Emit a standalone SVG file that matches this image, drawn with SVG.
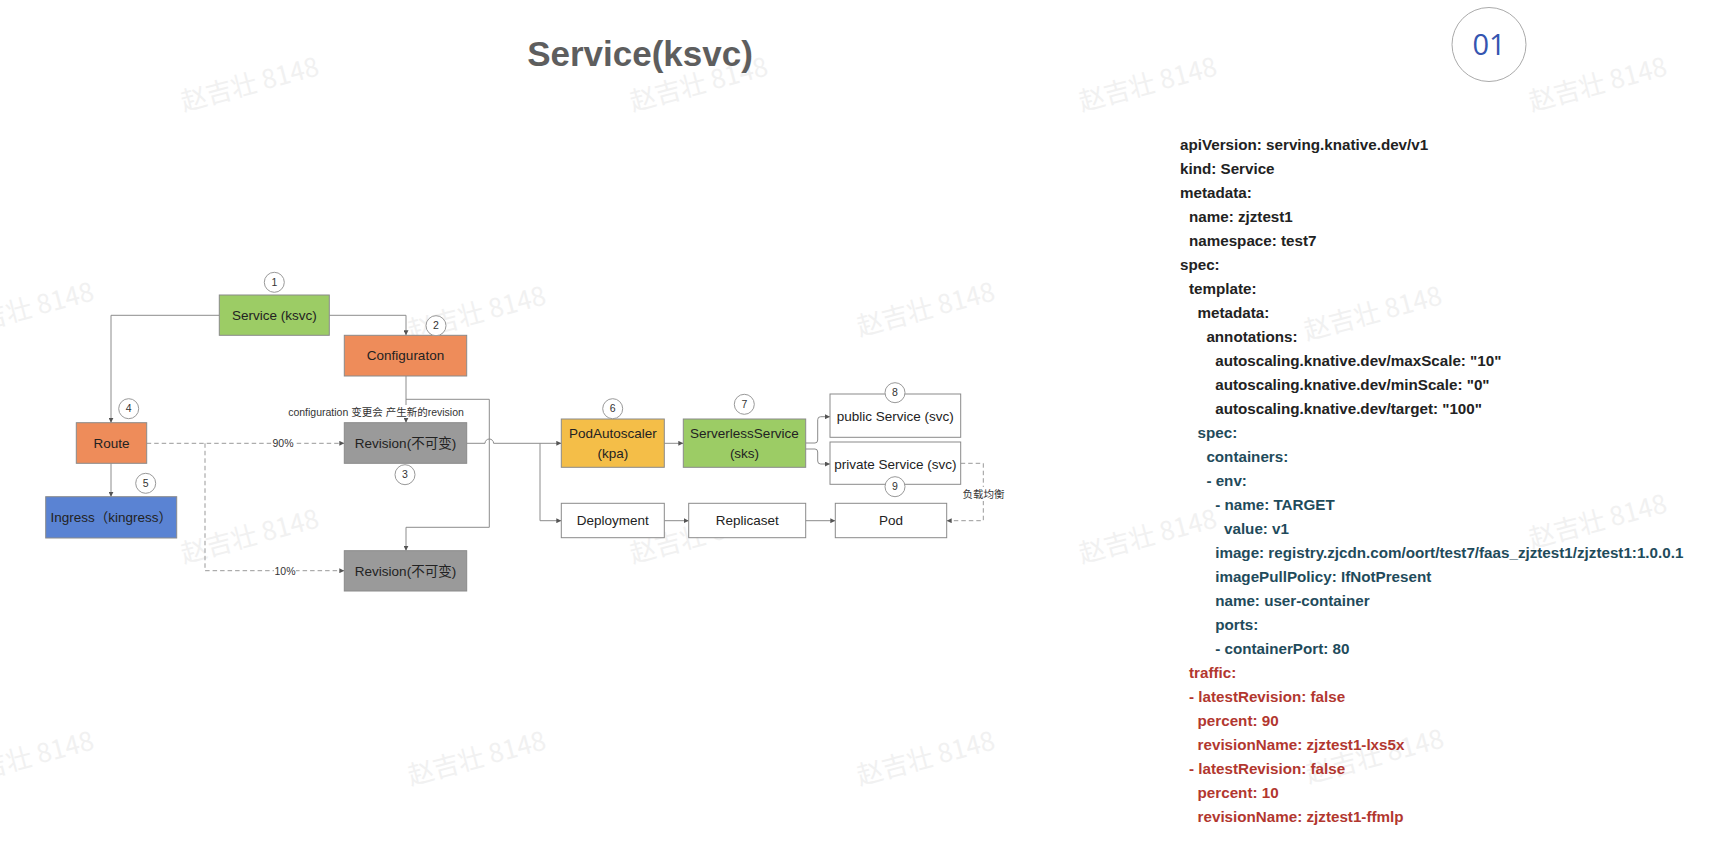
<svg xmlns="http://www.w3.org/2000/svg" width="1718" height="854" viewBox="0 0 1718 854">
  <defs>
    <marker id="arrow" markerUnits="userSpaceOnUse" markerWidth="6" markerHeight="5" refX="5" refY="2.5" orient="auto">
      <path d="M0,0 L5,2.5 L0,5 z" fill="#555"/>
    </marker>
    <style>
      .wm { font-family: "Noto Sans CJK SC", "Liberation Sans", sans-serif; font-size: 26px; fill: #f1f1f1; }
      .box { stroke: #8a8a8a; stroke-width: 1; }
      .lbl { font-family: "Liberation Sans", Arial, "Noto Sans CJK SC", sans-serif; font-size: 13.5px; fill: #222; text-anchor: middle; }
      .small { font-family: "Liberation Sans", Arial, "Noto Sans CJK SC", sans-serif; font-size: 10.5px; fill: #333; text-anchor: middle; }
      .num { font-family: "Liberation Sans", Arial, sans-serif; font-size: 10.5px; fill: #333; text-anchor: middle; }
      .badge { fill: #fff; stroke: #999; stroke-width: 1; }
      .line { fill: none; stroke: #8c8c8c; stroke-width: 1; }
      .dash { fill: none; stroke: #999; stroke-width: 1; stroke-dasharray: 4.5 3; }
      .yaml { font-family: "Liberation Sans", Arial, sans-serif; font-size: 15.2px; font-weight: bold; }
      .k { fill: #222; }
      .t { fill: #1f4b5b; }
      .r { fill: #b2372f; }
    </style>
  </defs>

  <rect width="1718" height="854" fill="#fff"/>

  <!-- watermark pattern -->
  <g id="watermarks">
    <text class="wm" transform="translate(252,93) rotate(-15)" text-anchor="middle">赵吉壮 8148</text>
    <text class="wm" transform="translate(701,93) rotate(-15)" text-anchor="middle">赵吉壮 8148</text>
    <text class="wm" transform="translate(1150,93) rotate(-15)" text-anchor="middle">赵吉壮 8148</text>
    <text class="wm" transform="translate(1600,93) rotate(-15)" text-anchor="middle">赵吉壮 8148</text>
    <text class="wm" transform="translate(27,318) rotate(-15)" text-anchor="middle">赵吉壮 8148</text>
    <text class="wm" transform="translate(479,322) rotate(-15)" text-anchor="middle">赵吉壮 8148</text>
    <text class="wm" transform="translate(928,318) rotate(-15)" text-anchor="middle">赵吉壮 8148</text>
    <text class="wm" transform="translate(1375,322) rotate(-15)" text-anchor="middle">赵吉壮 8148</text>
    <text class="wm" transform="translate(252,545) rotate(-15)" text-anchor="middle">赵吉壮 8148</text>
    <text class="wm" transform="translate(701,545) rotate(-15)" text-anchor="middle">赵吉壮 8148</text>
    <text class="wm" transform="translate(1150,545) rotate(-15)" text-anchor="middle">赵吉壮 8148</text>
    <text class="wm" transform="translate(1600,530) rotate(-15)" text-anchor="middle">赵吉壮 8148</text>
    <text class="wm" transform="translate(27,767) rotate(-15)" text-anchor="middle">赵吉壮 8148</text>
    <text class="wm" transform="translate(479,767) rotate(-15)" text-anchor="middle">赵吉壮 8148</text>
    <text class="wm" transform="translate(928,767) rotate(-15)" text-anchor="middle">赵吉壮 8148</text>
    <text class="wm" transform="translate(1377,765) rotate(-15)" text-anchor="middle">赵吉壮 8148</text>
  </g>

  <!-- heading and page number -->
  <text id="title" x="640" y="66" text-anchor="middle" font-family="Liberation Sans, Arial, sans-serif" font-size="35" font-weight="bold" fill="#5e5e5e">Service(ksvc)</text>
  <g id="page-number">
    <circle cx="1489" cy="44.5" r="37" fill="#fff" stroke="#aaa" stroke-width="1"/>
    <text x="1489" y="55" text-anchor="middle" font-family="Open Sans, Liberation Sans, sans-serif" font-size="29" fill="#3555b0">01</text>
  </g>

  <!-- connectors -->
  <g id="connectors">
    <path class="line" d="M219.3,315.3 H111 V422.7" marker-end="url(#arrow)"/>
    <path class="line" d="M329.3,315.3 H406 V335.3" marker-end="url(#arrow)"/>
    <path class="line" d="M406,376 V422.7" marker-end="url(#arrow)"/>
    <path class="line" d="M406,399.3 H489.3 V527.3 H406 V550.7" marker-end="url(#arrow)"/>
    <path class="line" d="M111,463.3 V496.7" marker-end="url(#arrow)"/>
    <path class="dash" d="M146.7,443.3 H344.3" marker-end="url(#arrow)"/>
    <path class="dash" d="M205,443.3 V570.7 H344.3" marker-end="url(#arrow)"/>
    <path class="line" d="M466.7,443.3 H485 A4.3,4.3 0 0 1 493.6,443.3 H561.3" marker-end="url(#arrow)"/>
    <path class="line" d="M540,443.3 V520.7 H561.3" marker-end="url(#arrow)"/>
    <path class="line" d="M664.3,443.3 H683.3" marker-end="url(#arrow)"/>
    <path class="line" d="M805.7,443 H815 Q817.7,443 817.7,440 V419.7 Q817.7,416.7 820.7,416.7 H830" marker-end="url(#arrow)"/>
    <path class="line" d="M805.7,449 H815 Q817.7,449 817.7,452 V461 Q817.7,464 820.7,464 H830" marker-end="url(#arrow)"/>
    <path class="line" d="M664.3,520.7 H688.7" marker-end="url(#arrow)"/>
    <path class="line" d="M805.7,520.7 H835.3" marker-end="url(#arrow)"/>
    <path class="dash" d="M960.7,463.3 H983.3 V520.7 H946.7" marker-end="url(#arrow)"/>

    <!-- connector labels -->
    <rect x="286" y="405" width="180" height="13" fill="#fff"/>
    <text class="small" x="376" y="415.5">configuration 变更会 产生新的revision</text>
    <rect x="272" y="437" width="22" height="12" fill="#fff"/>
    <text class="small" x="283" y="447">90%</text>
    <rect x="274" y="565" width="22" height="12" fill="#fff"/>
    <text class="small" x="285" y="574.5">10%</text>
    <rect x="962" y="487" width="43" height="14" fill="#fff"/>
    <text class="small" x="983.5" y="498">负载均衡</text>
  </g>

  <!-- nodes -->
  <g id="node-service">
    <rect class="box" x="219.3" y="295" width="110" height="40.3" fill="#9ccc65"/>
    <text class="lbl" x="274.3" y="320">Service (ksvc)</text>
    <circle class="badge" cx="274.3" cy="282.3" r="10"/>
    <text class="num" x="274.3" y="286">1</text>
  </g>

  <g id="node-configuration">
    <rect class="box" x="344.3" y="335.3" width="122.4" height="40.7" fill="#ee8c5a"/>
    <text class="lbl" x="405.5" y="360.4">Configuraton</text>
    <circle class="badge" cx="436" cy="325.7" r="10"/>
    <text class="num" x="436" y="329.4">2</text>
  </g>

  <g id="node-revision-1">
    <rect class="box" x="344.3" y="422.7" width="122.4" height="40.6" fill="#9a9a9a"/>
    <text class="lbl" x="405.5" y="448">Revision(不可变)</text>
    <circle class="badge" cx="405" cy="474.7" r="10"/>
    <text class="num" x="405" y="478.4">3</text>
  </g>

  <g id="node-revision-2">
    <rect class="box" x="344.3" y="550.7" width="122.4" height="40.3" fill="#9a9a9a"/>
    <text class="lbl" x="405.5" y="575.8">Revision(不可变)</text>
  </g>

  <g id="node-route">
    <rect class="box" x="76.3" y="422.7" width="70.4" height="40.6" fill="#ee8c5a"/>
    <text class="lbl" x="111.5" y="448">Route</text>
    <circle class="badge" cx="128.7" cy="408.7" r="10"/>
    <text class="num" x="128.7" y="412.4">4</text>
  </g>

  <g id="node-ingress">
    <rect class="box" x="45.7" y="496.7" width="131" height="41.3" fill="#5a83d3"/>
    <text class="lbl" x="111.2" y="522">Ingress（kingress）</text>
    <circle class="badge" cx="145.7" cy="483.3" r="10"/>
    <text class="num" x="145.7" y="487">5</text>
  </g>

  <g id="node-podautoscaler">
    <rect class="box" x="561.3" y="419" width="103" height="48.3" fill="#f4be48"/>
    <text class="lbl" x="612.8" y="438">PodAutoscaler</text>
    <text class="lbl" x="612.8" y="457.5">(kpa)</text>
    <circle class="badge" cx="612.7" cy="408.7" r="10"/>
    <text class="num" x="612.7" y="412.4">6</text>
  </g>

  <g id="node-serverlessservice">
    <rect class="box" x="683.3" y="419" width="122.4" height="48.3" fill="#9ccc65"/>
    <text class="lbl" x="744.5" y="438">ServerlessService</text>
    <text class="lbl" x="744.5" y="457.5">(sks)</text>
    <circle class="badge" cx="744.3" cy="404.3" r="10"/>
    <text class="num" x="744.3" y="408">7</text>
  </g>

  <g id="node-public-service">
    <rect class="box" x="830" y="394" width="130.7" height="43.3" fill="#fff"/>
    <text class="lbl" x="895.3" y="420.5">public Service (svc)</text>
    <circle class="badge" cx="895" cy="392.7" r="10"/>
    <text class="num" x="895" y="396.4">8</text>
  </g>

  <g id="node-private-service">
    <rect class="box" x="830" y="442" width="130.7" height="42.3" fill="#fff"/>
    <text class="lbl" x="895.3" y="468.7">private Service (svc)</text>
    <circle class="badge" cx="895" cy="486.7" r="10"/>
    <text class="num" x="895" y="490.4">9</text>
  </g>

  <g id="node-deployment">
    <rect class="box" x="561.3" y="503.3" width="103" height="34.4" fill="#fff"/>
    <text class="lbl" x="612.8" y="525.4">Deployment</text>
  </g>

  <g id="node-replicaset">
    <rect class="box" x="688.7" y="503.3" width="117" height="34.4" fill="#fff"/>
    <text class="lbl" x="747.2" y="525.4">Replicaset</text>
  </g>

  <g id="node-pod">
    <rect class="box" x="835.3" y="503.3" width="111.4" height="34.4" fill="#fff"/>
    <text class="lbl" x="891" y="525.4">Pod</text>
  </g>

  <!-- Knative Service manifest -->
  <g id="manifest" class="yaml">
    <text class="k" x="1180" y="150">apiVersion: serving.knative.dev/v1</text>
    <text class="k" x="1180" y="174">kind: Service</text>
    <text class="k" x="1180" y="198">metadata:</text>
    <text class="k" x="1189" y="222">name: zjztest1</text>
    <text class="k" x="1189" y="246">namespace: test7</text>
    <text class="k" x="1180" y="270">spec:</text>
    <text class="k" x="1189" y="294">template:</text>
    <text class="k" x="1197.6" y="318">metadata:</text>
    <text class="k" x="1206.4" y="342">annotations:</text>
    <text class="k" x="1215.2" y="366">autoscaling.knative.dev/maxScale: "10"</text>
    <text class="k" x="1215.2" y="390">autoscaling.knative.dev/minScale: "0"</text>
    <text class="k" x="1215.2" y="414">autoscaling.knative.dev/target: "100"</text>
    <text class="t" x="1197.6" y="438">spec:</text>
    <text class="t" x="1206.4" y="462">containers:</text>
    <text class="t" x="1206.4" y="486">- env:</text>
    <text class="t" x="1215.2" y="510">- name: TARGET</text>
    <text class="t" x="1224" y="534">value: v1</text>
    <text class="t" x="1215.2" y="558">image: registry.zjcdn.com/oort/test7/faas_zjztest1/zjztest1:1.0.0.1</text>
    <text class="t" x="1215.2" y="582">imagePullPolicy: IfNotPresent</text>
    <text class="t" x="1215.2" y="606">name: user-container</text>
    <text class="t" x="1215.2" y="630">ports:</text>
    <text class="t" x="1215.2" y="654">- containerPort: 80</text>
    <text class="r" x="1189" y="678">traffic:</text>
    <text class="r" x="1189" y="702">- latestRevision: false</text>
    <text class="r" x="1197.6" y="726">percent: 90</text>
    <text class="r" x="1197.6" y="750">revisionName: zjztest1-lxs5x</text>
    <text class="r" x="1189" y="774">- latestRevision: false</text>
    <text class="r" x="1197.6" y="798">percent: 10</text>
    <text class="r" x="1197.6" y="822">revisionName: zjztest1-ffmlp</text>
  </g>
</svg>
